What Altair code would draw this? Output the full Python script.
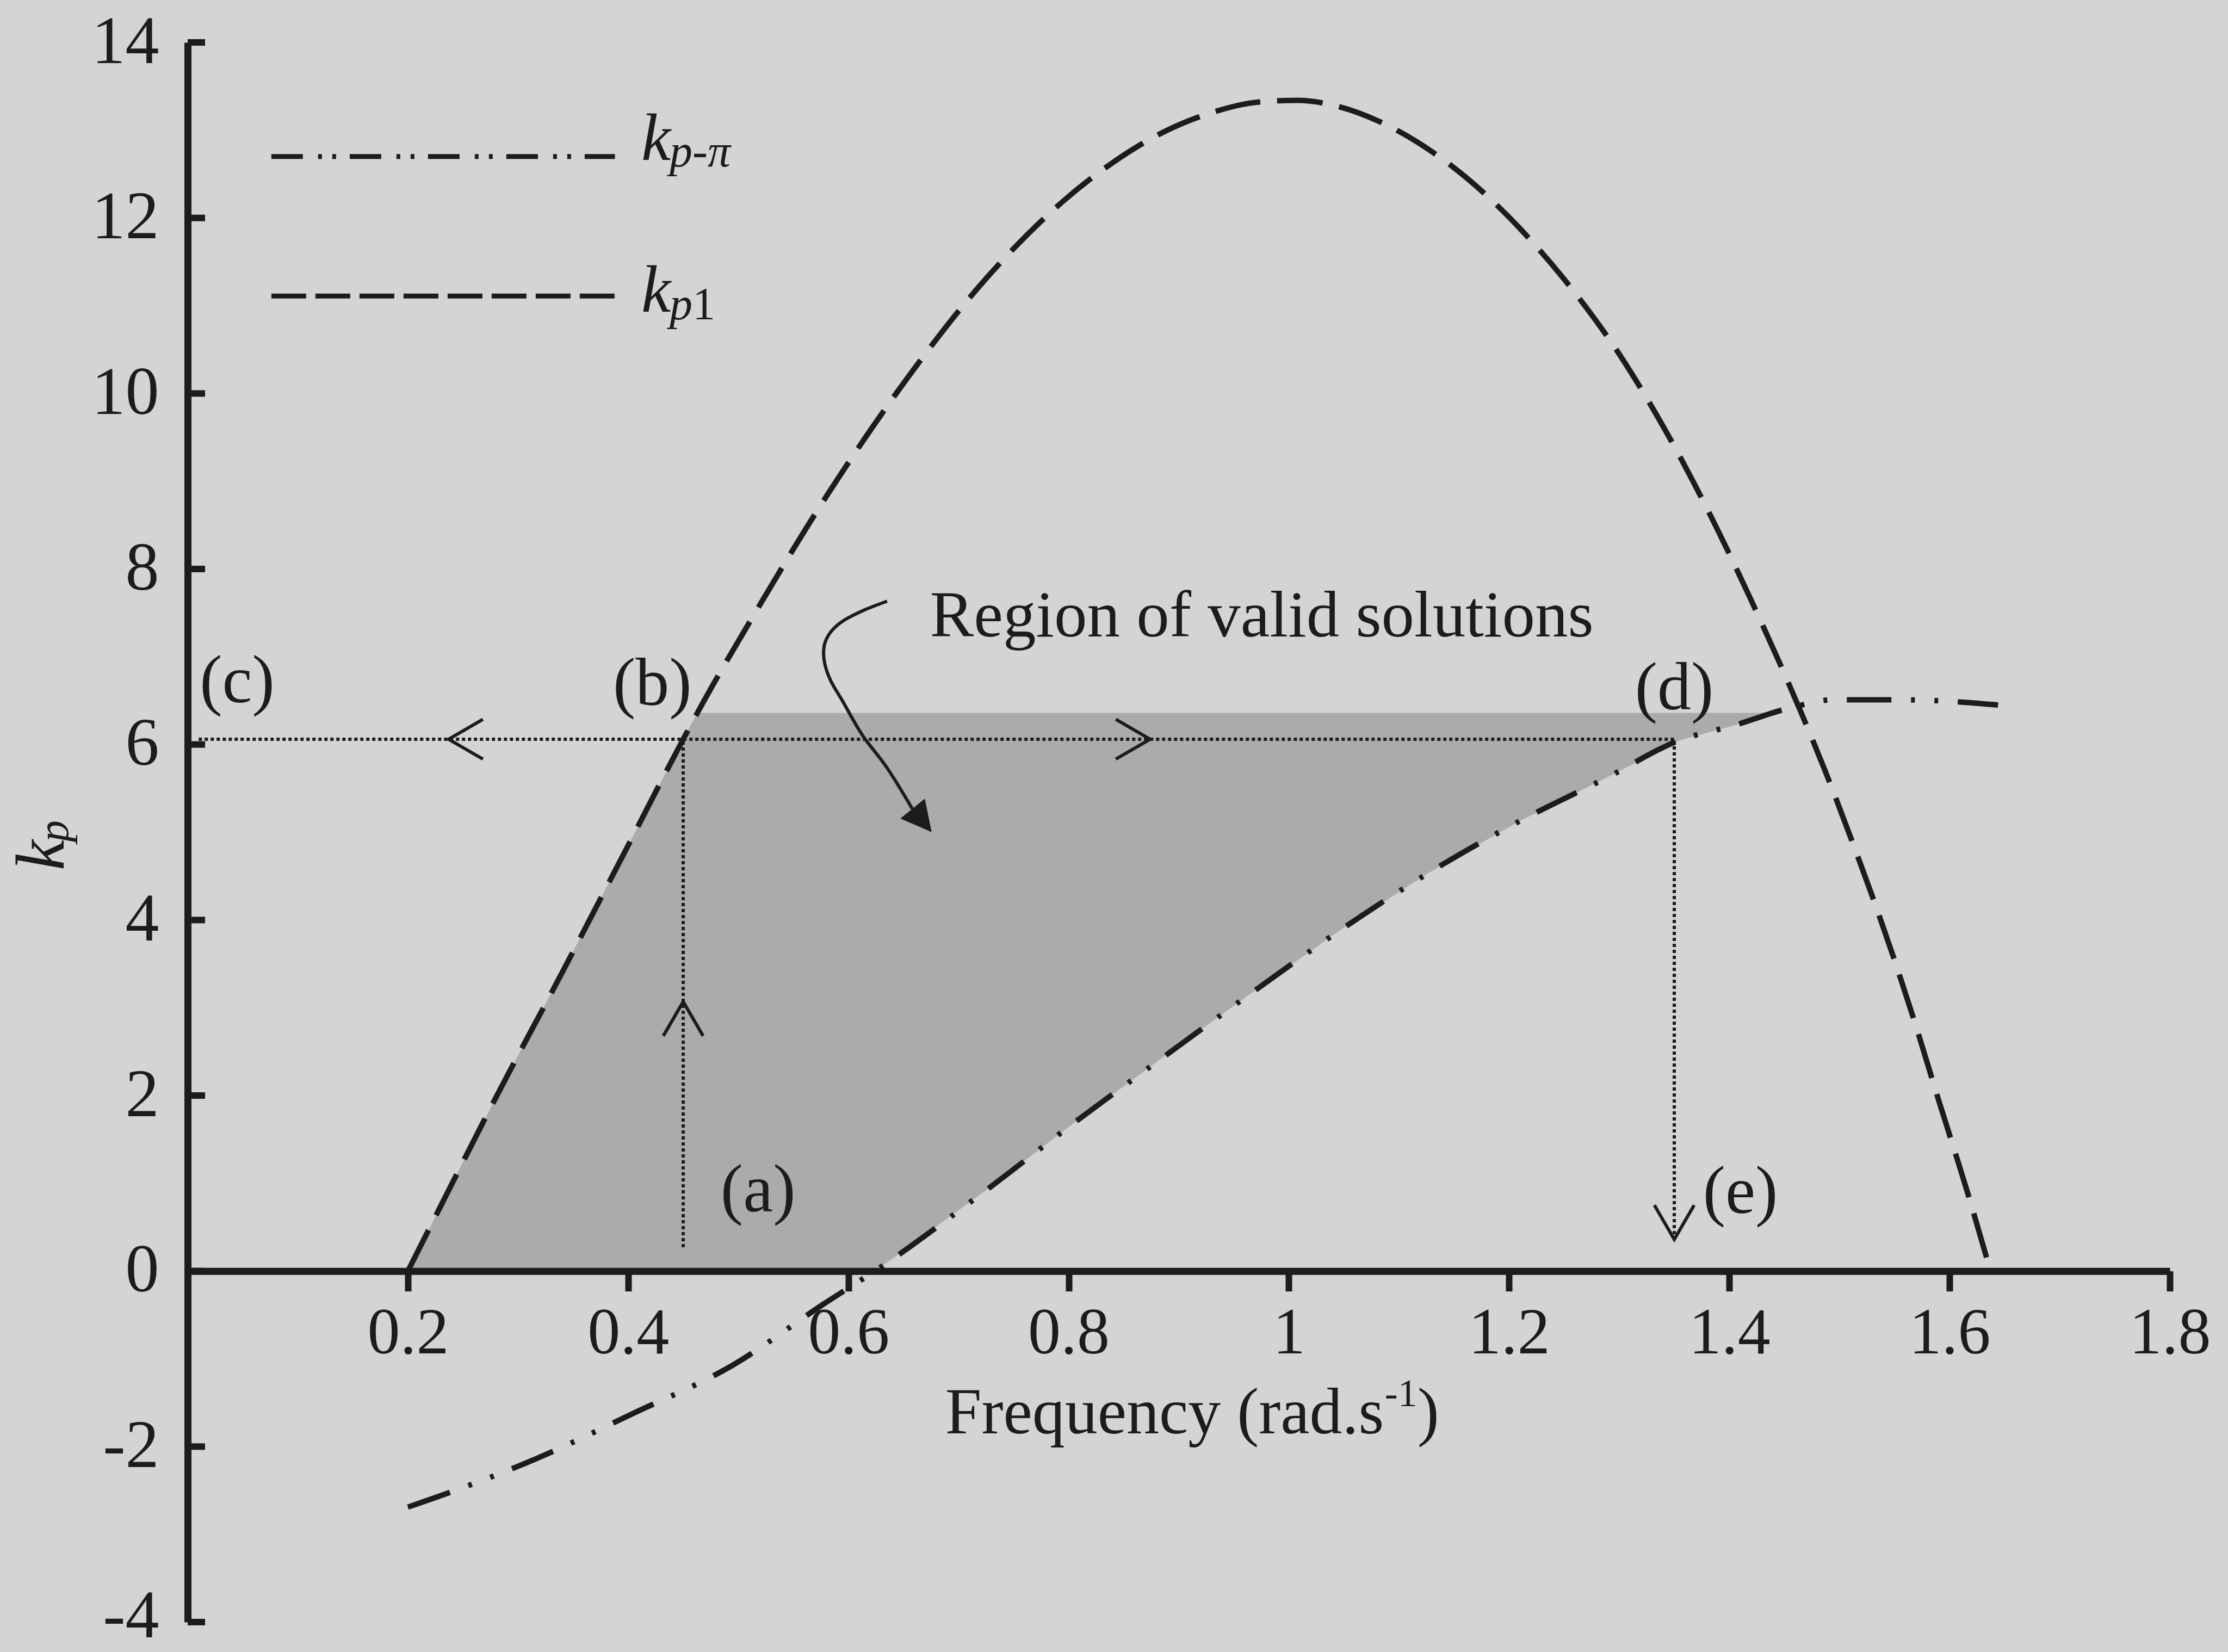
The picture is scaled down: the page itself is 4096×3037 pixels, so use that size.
import altair as alt
import numpy as np
import pandas as pd

INK = "#1c1c1c"
PAPER = "#d4d4d4"
SHADE = "#ababab"
SERIF = "Liberation Serif"

W, H = 3644, 2904
X_DOMAIN = [0, 1.8]
Y_DOMAIN = [-4, 14]

# k_p1 boundary (dashed curve)
kp1_freq = [0.200, 0.237, 0.280, 0.340, 0.400, 0.450, 0.462, 0.521, 0.570, 0.621,
            0.665, 0.710, 0.750, 0.794, 0.840, 0.888, 0.930, 0.972, 1.008, 1.045,
            1.082, 1.134, 1.181, 1.223, 1.259, 1.301, 1.330, 1.359, 1.390, 1.417,
            1.446, 1.464, 1.487, 1.512, 1.533, 1.549, 1.569, 1.590, 1.615, 1.636]
kp1_gain = [0.00, 0.92, 1.98, 3.40, 4.85, 6.06, 6.34, 7.62, 8.63, 9.60,
            10.37, 11.09, 11.65, 12.18, 12.63, 12.99, 13.20, 13.32, 13.34, 13.27,
            13.10, 12.72, 12.24, 11.70, 11.16, 10.43, 9.84, 9.19, 8.43, 7.72,
            6.92, 6.40, 5.70, 4.88, 4.16, 3.58, 2.81, 1.95, 0.95, 0.05]

# k_p-pi boundary (dash-dot-dot curve)
kpp_freq = [0.200, 0.232, 0.318, 0.405, 0.494, 0.577, 0.630, 0.725, 0.804, 0.883,
            0.964, 1.045, 1.126, 1.210, 1.290, 1.353, 1.405, 1.459, 1.495, 1.550,
            1.603, 1.644]
kpp_gain = [-2.69, -2.55, -2.13, -1.62, -1.08, -0.38, 0.05, 0.92, 1.68, 2.41,
            3.15, 3.87, 4.53, 5.13, 5.63, 6.04, 6.22, 6.43, 6.51, 6.51,
            6.49, 6.45]

# chosen gain and the frequencies where it meets each boundary
kp_chosen = 6.06
w_b = 0.45
w_d = 1.35
region_top = 6.36

x_ticks = [0.2, 0.4, 0.6, 0.8, 1, 1.2, 1.4, 1.6, 1.8]
y_ticks = [-4, -2, 0, 2, 4, 6, 8, 10, 12, 14]

# point labels
pt_text = ["(a)", "(b)", "(c)", "(d)", "(e)"]
pt_freq = [0.518, 0.422, 0.045, 1.350, 1.410]
pt_gain = [0.68, 6.45, 6.48, 6.40, 0.66]

# open arrowheads on the construction lines
head_freq = [0.237, 0.874, 0.450, 1.350]
head_gain = [6.06, 6.06, 3.07, 0.36]
head_angle = [270, 90, 0, 180]

# callout pointing into the valid region
call_freq = [0.6352, 0.6152, 0.5952, 0.5839, 0.5782, 0.5782, 0.5837, 0.5952, 0.6126, 0.6352, 0.6581]
call_gain = [7.633, 7.536, 7.408, 7.281, 7.134, 6.945, 6.734, 6.485, 6.109, 5.732, 5.267]
call_tip = (0.6756, 5.002)

# ---------------------------------------------------------------- scales / axes
xs = alt.Scale(domain=X_DOMAIN, nice=False, zero=False)
ys = alt.Scale(domain=Y_DOMAIN, nice=False, zero=False)
zero_offset = -H * (0 - Y_DOMAIN[0]) / (Y_DOMAIN[1] - Y_DOMAIN[0])

x_axis = alt.Axis(values=x_ticks, labelExpr="'' + datum.value", title=None, grid=False,
                  offset=zero_offset, zindex=1, domainColor=INK, domainWidth=13,
                  tickColor=INK, tickWidth=12, tickSize=37, labelFont=SERIF,
                  labelFontSize=120, labelColor=INK, labelPadding=19,
                  labelFlush=False, labelOverlap=False)
y_axis = alt.Axis(values=y_ticks, labelExpr="'' + datum.value", title=None, grid=False,
                  ticks=False, zindex=1, domainColor=INK, domainWidth=13,
                  labelFont=SERIF, labelFontSize=124, labelColor=INK, labelPadding=53,
                  labelOffset={"condition": {"test": "datum.value == -4", "value": -10}, "value": 0},
                  labelFlush=False, labelOverlap=False)


def X(field):
    return alt.X(field, type="quantitative", scale=xs, axis=x_axis)


def Y(field):
    return alt.Y(field, type="quantitative", scale=ys, axis=y_axis)


# ---------------------------------------------------------------- valid region
inc = int(np.argmax(np.diff(kpp_gain) <= 0)) + 1
f_zero = float(np.interp(0.0, kpp_gain[:inc], kpp_freq[:inc]))
f_end = float(np.interp(region_top, kpp_gain[:inc], kpp_freq[:inc]))
f_top = float(np.interp(region_top, kp1_gain[:18], kp1_freq[:18]))
grid = sorted({f for f in kp1_freq + kpp_freq if kp1_freq[0] <= f <= f_end} | {f_zero, f_end, f_top})
upper = np.minimum(np.interp(grid, kp1_freq, kp1_gain), region_top)
lower = np.maximum(np.interp(grid, kpp_freq, kpp_gain), 0.0)
region = pd.DataFrame({"f": grid, "hi": upper, "lo": lower})

area = alt.Chart(region).mark_area(color=SHADE, opacity=1).encode(
    x=X("f"), y=Y("hi"), y2="lo")

# ---------------------------------------------------------------- curves
kp1_df = pd.DataFrame({"f": kp1_freq, "k": kp1_gain})
kpp_df = pd.DataFrame({"f": kpp_freq, "k": kpp_gain})

kp1_line = alt.Chart(kp1_df).mark_line(
    color=INK, strokeWidth=10, strokeDash=[84, 31], interpolate="monotone"
).encode(x=X("f"), y=Y("k"))

kpp_line = alt.Chart(kpp_df).mark_line(
    color=INK, strokeWidth=10, strokeDash=[82, 36, 7, 36, 7, 36], interpolate="monotone"
).encode(x=X("f"), y=Y("k"))

# ---------------------------------------------------------------- construction lines
guides = pd.DataFrame({
    "x": [0.01, w_b, w_d],
    "x2": [w_d, w_b, w_d],
    "y": [kp_chosen, 0.27, 0.42],
    "y2": [kp_chosen, kp_chosen, 6.04],
})
guide_rules = alt.Chart(guides).mark_rule(
    color=INK, strokeWidth=6, strokeDash=[6, 5]
).encode(x=X("x"), x2="x2", y=Y("y"), y2="y2")

heads = pd.DataFrame({"f": head_freq, "k": head_gain, "a": head_angle})
head_marks = alt.Chart(heads).mark_point(
    shape="M -0.58 1 L 0 0 L 0.58 1", filled=False, size=15876, strokeWidth=6,
    color=INK, opacity=1
).encode(x=X("f"), y=Y("k"), angle=alt.Angle("a:Q", scale=None))

# ---------------------------------------------------------------- y-axis inward ticks
ytick_df = pd.DataFrame({"k": y_ticks})
ytick_marks = alt.Chart(ytick_df).mark_rule(color=INK, strokeWidth=12).encode(
    y=Y("k"), x=alt.value(0), x2=alt.value(32))

# ---------------------------------------------------------------- callout
call_df = pd.DataFrame({"f": call_freq, "k": call_gain, "i": list(range(len(call_freq)))})
call_line = alt.Chart(call_df).mark_line(
    color=INK, strokeWidth=6, interpolate="cardinal"
).encode(x=X("f"), y=Y("k"), order="i:Q")

tip_df = pd.DataFrame({"f": [call_tip[0]], "k": [call_tip[1]]})
call_head = alt.Chart(tip_df).mark_point(
    shape="M 0 0 L -0.52 1 L 0.52 1 Z", filled=True, size=12365, angle=141,
    color=INK, opacity=1
).encode(x=X("f"), y=Y("k"))

region_label = alt.Chart(pd.DataFrame({"f": [0.674], "k": [7.23], "t": ["Region of valid solutions"]})).mark_text(
    align="left", baseline="alphabetic", font=SERIF, fontSize=121, color=INK
).encode(x=X("f"), y=Y("k"), text="t:N")

# ---------------------------------------------------------------- point labels
pt_df = pd.DataFrame({"f": pt_freq, "k": pt_gain, "t": pt_text})
pt_marks = alt.Chart(pt_df).mark_text(
    align="center", baseline="alphabetic", font=SERIF, fontSize=124, color=INK
).encode(x=X("f"), y=Y("k"), text="t:N")

# ---------------------------------------------------------------- legend
leg_x0, leg_x1 = 0.076, 0.388
leg_pi = alt.Chart(pd.DataFrame({"x": [leg_x0], "x2": [leg_x1], "y": [12.70]})).mark_rule(
    color=INK, strokeWidth=9, strokeDash=[58, 28, 7, 19, 7, 25]
).encode(x=X("x"), x2="x2", y=Y("y"))
leg_1 = alt.Chart(pd.DataFrame({"x": [leg_x0], "x2": [leg_x1], "y": [11.11]})).mark_rule(
    color=INK, strokeWidth=9, strokeDash=[64, 17]
).encode(x=X("x"), x2="x2", y=Y("y"))

leg_k = alt.Chart(pd.DataFrame({"f": [0.412, 0.412], "k": [12.66, 10.93], "t": ["k", "k"]})).mark_text(
    align="left", baseline="alphabetic", font=SERIF, fontStyle="italic", fontSize=122, color=INK
).encode(x=X("f"), y=Y("k"), text="t:N")
leg_sub_pi = alt.Chart(pd.DataFrame({"f": [0.412], "k": [12.66], "t": ["p-π"]})).mark_text(
    align="left", baseline="alphabetic", font=SERIF, fontStyle="italic", fontSize=84,
    color=INK, dx=52, dy=12
).encode(x=X("f"), y=Y("k"), text="t:N")
leg_sub_p = alt.Chart(pd.DataFrame({"f": [0.412], "k": [10.93], "t": ["p"]})).mark_text(
    align="left", baseline="alphabetic", font=SERIF, fontStyle="italic", fontSize=84,
    color=INK, dx=52, dy=14
).encode(x=X("f"), y=Y("k"), text="t:N")
leg_sub_1 = alt.Chart(pd.DataFrame({"f": [0.412], "k": [10.93], "t": ["1"]})).mark_text(
    align="left", baseline="alphabetic", font=SERIF, fontSize=84,
    color=INK, dx=94, dy=14
).encode(x=X("f"), y=Y("k"), text="t:N")

# ---------------------------------------------------------------- axis titles
x_title_f, x_title_k = 0.688, -1.85
xt_main = alt.Chart(pd.DataFrame({"f": [x_title_f], "k": [x_title_k], "t": ["Frequency (rad.s"]})).mark_text(
    align="left", baseline="alphabetic", font=SERIF, fontSize=120, color=INK
).encode(x=X("f"), y=Y("k"), text="t:N")
xt_sup = alt.Chart(pd.DataFrame({"f": [x_title_f], "k": [x_title_k], "t": ["-1"]})).mark_text(
    align="left", baseline="alphabetic", font=SERIF, fontSize=72, color=INK, dx=808, dy=-50
).encode(x=X("f"), y=Y("k"), text="t:N")
xt_close = alt.Chart(pd.DataFrame({"f": [x_title_f], "k": [x_title_k], "t": [")"]})).mark_text(
    align="left", baseline="alphabetic", font=SERIF, fontSize=120, color=INK, dx=868
).encode(x=X("f"), y=Y("k"), text="t:N")

yt_k = alt.Chart(pd.DataFrame({"t": ["k"]})).mark_text(
    align="left", baseline="alphabetic", font=SERIF, fontStyle="italic", fontSize=126,
    color=INK, angle=270
).encode(x=alt.value(-228), y=alt.value(1522), text="t:N")
yt_p = alt.Chart(pd.DataFrame({"t": ["p"]})).mark_text(
    align="left", baseline="alphabetic", font=SERIF, fontStyle="italic", fontSize=80,
    color=INK, angle=270
).encode(x=alt.value(-220), y=alt.value(1470), text="t:N")

chart = alt.layer(
    area, guide_rules, kp1_line, kpp_line, head_marks, ytick_marks,
    call_line, call_head, region_label, pt_marks,
    leg_pi, leg_1, leg_k, leg_sub_pi, leg_sub_p, leg_sub_1,
    xt_main, xt_sup, xt_close, yt_k, yt_p,
).properties(
    width=W, height=H,
    background=PAPER,
    padding={"left": 345, "top": 78, "right": 107, "bottom": 55},
    autosize=alt.AutoSizeParams(type="none"),
).configure_view(stroke=None)

chart.save("out.html", embed_options={"renderer": "svg", "actions": False})
